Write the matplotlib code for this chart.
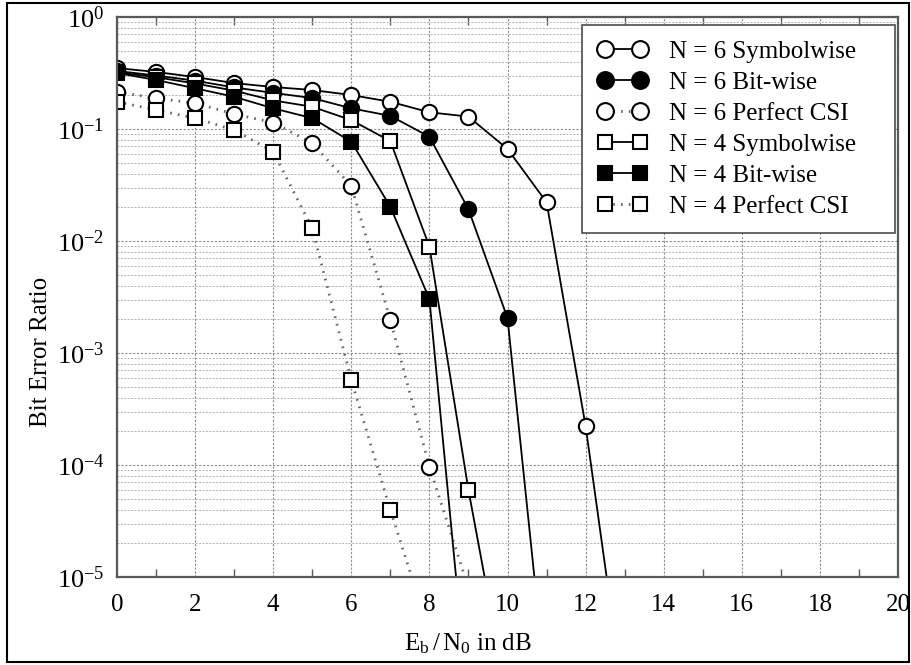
import numpy as np
import matplotlib
matplotlib.use('Agg')
import matplotlib.pyplot as plt
from matplotlib.patches import Rectangle
from matplotlib.ticker import LogLocator, MultipleLocator, NullFormatter

plt.rcParams['font.family'] = ['Liberation Serif', 'DejaVu Serif']
plt.rcParams['mathtext.fontset'] = 'custom'
plt.rcParams['mathtext.rm'] = 'Liberation Serif'
plt.rcParams['mathtext.it'] = 'Liberation Serif'
plt.rcParams['axes.unicode_minus'] = False

# BER curves (points below 1e-5 run off the axes)
ebn0 = np.arange(0, 14)

n6_sym = [0.35, 0.323, 0.291, 0.257, 0.237, 0.223, 0.201, 0.175, 0.141, 0.129,
          0.0663, 0.0222, 2.23e-4, 7e-7]
n6_bit = [0.33, 0.30, 0.27, 0.235, 0.21, 0.189, 0.153, 0.131, 0.0853, 0.0192,
          2.05e-3, 9e-7]
n6_csi = [0.215, 0.188, 0.17, 0.136, 0.114, 0.0745, 0.031, 1.97e-3, 9.65e-5, 8e-6]
n4_sym = [0.32, 0.29, 0.255, 0.22, 0.18, 0.158, 0.12, 0.078, 8.9e-3, 5.98e-5, 8e-7]
n4_bit = [0.316, 0.274, 0.231, 0.194, 0.153, 0.125, 0.077, 0.0202, 3.03e-3, 7e-7]
n4_csi = [0.175, 0.148, 0.125, 0.098, 0.0627, 0.013, 5.74e-4, 3.96e-5, 3.2e-6]

labels = ['N = 6 Symbolwise', 'N = 6 Bit-wise', 'N = 6 Perfect CSI',
          'N = 4 Symbolwise', 'N = 4 Bit-wise', 'N = 4 Perfect CSI']

fig = plt.figure(figsize=(9.12, 6.65), dpi=100)
ax = fig.add_axes([117/912, 88/665, 781/912, 560/665])

solid = dict(color='black', lw=1.3, markeredgewidth=1.5, markeredgecolor='black')
dot = dict(color='0.4', lw=2.0, ls=(0, (0.6, 2.2)), markeredgewidth=1.5,
           markeredgecolor='black')

series = [n6_sym, n6_bit, n6_csi, n4_sym, n4_bit, n4_csi]
styles = [
    dict(marker='o', ms=11, mfc='white', **solid),
    dict(marker='o', ms=11, mfc='black', **solid),
    dict(marker='o', ms=11, mfc='white', **dot),
    dict(marker='s', ms=9.5, mfc='white', **solid),
    dict(marker='s', ms=9.5, mfc='black', **solid),
    dict(marker='s', ms=9.5, mfc='white', **dot),
]
for vals, st, lab in zip(series, styles, labels):
    ax.semilogy(ebn0[:len(vals)], vals, label=lab, **st)

ax.set_xlim(0, 20)
ax.set_ylim(1e-5, 1)
ax.xaxis.set_major_locator(MultipleLocator(2))
ax.xaxis.set_minor_locator(MultipleLocator(1))
ax.yaxis.set_major_locator(LogLocator(base=10, numticks=10))
ax.yaxis.set_minor_locator(LogLocator(base=10, subs=np.arange(2, 10), numticks=20))
ax.yaxis.set_minor_formatter(NullFormatter())

ax.grid(True, which='major', color='0.55', ls=(0, (2, 1.5)), lw=0.8)
ax.grid(True, which='minor', axis='y', color='0.7', ls=(0, (2, 1.5)), lw=0.7)
ax.tick_params(which='both', direction='in', top=True, right=True, color='0.35')
ax.tick_params(which='major', length=0, labelsize=18, pad=12)
ax.tick_params(axis='y', which='major', labelsize=19, pad=9)
ax.tick_params(which='minor', length=6, width=1)
ax.tick_params(axis='y', which='minor', length=0)
for s in ax.spines.values():
    s.set_color('0.35')
    s.set_linewidth(1.6)

ax.set_xlabel(r'$\mathrm{E_b\,/\,N_0}$ in dB', fontsize=18)
ax.xaxis.set_label_coords(0.449, -0.098)
ax.set_ylabel('Bit Error Ratio', fontsize=18)
ax.yaxis.set_label_coords(-0.083, 0.402)

leg = ax.legend(loc='upper left', bbox_to_anchor=(0.595, 0.5, 0.401, 0.486),
                mode='expand', fontsize=18, handlelength=2.0, numpoints=2,
                markerscale=1.1, fancybox=False, framealpha=1, edgecolor='0.3',
                borderpad=0.62, labelspacing=0.34, handletextpad=0.86,
                borderaxespad=0.0)
leg.get_frame().set_linewidth(1.2)

fig.patches.append(Rectangle((7/912, 3/665), 902/912, 659/665, transform=fig.transFigure,
                             fill=False, edgecolor='black', lw=1.5))

fig.savefig('out.png', dpi=100)
